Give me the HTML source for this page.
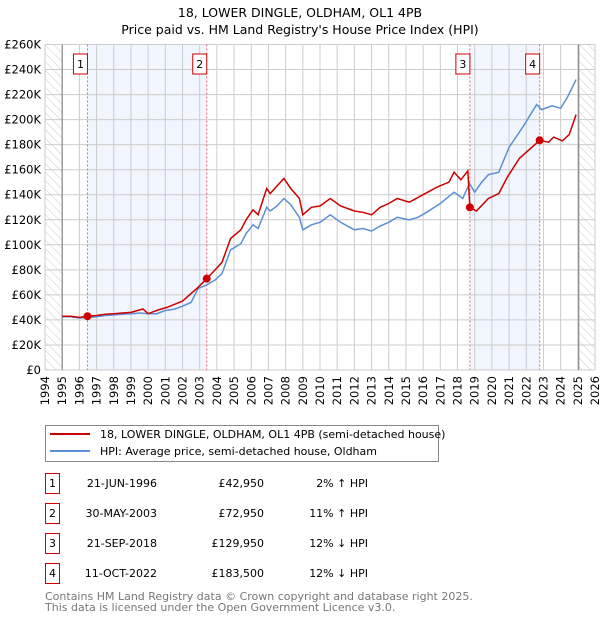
<!DOCTYPE html>
<html><head><meta charset="utf-8"><style>
body{margin:0;background:#fff;font-family:"DejaVu Sans","Liberation Sans",sans-serif;}
svg text{font-family:"DejaVu Sans","Liberation Sans",sans-serif;}
</style></head><body>
<svg id="c" width="600" height="620" viewBox="0 0 600 620" xmlns="http://www.w3.org/2000/svg">
<defs><pattern id="hatch" width="6" height="6" patternUnits="userSpaceOnUse" patternTransform="rotate(-45)"><line x1="0" y1="0" x2="0" y2="6" stroke="#ccc" stroke-width="1"/></pattern></defs>
<text x="300" y="17" text-anchor="middle" font-size="12.5">18, LOWER DINGLE, OLDHAM, OL1 4PB</text>
<text x="300" y="34" text-anchor="middle" font-size="12.5">Price paid vs. HM Land Registry's House Price Index (HPI)</text>
<g id="plot"></g>
<g>
<rect x="45.5" y="425.5" width="393" height="36" fill="#fff" stroke="#888"/>
<line x1="50" y1="434" x2="90" y2="434" stroke="#cc0000" stroke-width="2"/>
<text x="100" y="438" font-size="11">18, LOWER DINGLE, OLDHAM, OL1 4PB (semi-detached house)</text>
<line x1="50" y1="451" x2="90" y2="451" stroke="#5b8fd4" stroke-width="2"/>
<text x="100" y="455" font-size="11">HPI: Average price, semi-detached house, Oldham</text>
</g>
<g id="table" font-size="11"></g>
<text x="45" y="600" font-size="11" fill="#777">Contains HM Land Registry data © Crown copyright and database right 2025.</text>
<text x="45" y="611" font-size="11" fill="#777">This data is licensed under the Open Government Licence v3.0.</text>
</svg>
<script>
const hpiYears=[1995,1995.5,1996,1996.5,1997,1997.5,1998,1998.5,1999,1999.5,2000,2000.5,2001,2001.5,2002,2002.5,2002.9,2003.4,2003.9,2004.3,2004.8,2005.4,2005.7,2006.1,2006.4,2006.9,2007.1,2007.5,2007.9,2008.3,2008.8,2009.0,2009.5,2010,2010.6,2011.2,2012.0,2012.5,2013.0,2013.5,2014.0,2014.5,2015.2,2015.7,2016.2,2017.0,2017.8,2018.3,2018.7,2019.0,2019.4,2019.8,2020.4,2021.0,2021.8,2022.6,2022.9,2023.5,2024.0,2024.4,2024.9];
const hpiValues=[42.5,42.5,41.5,42,42.5,43.5,44,44.5,45,45.5,45,45,47.5,48.5,51,54,65,68,72,77,96,101,109,116,113,130,127,131,137,132,122,112,116,118,124,118,112,113,111,115,118,122,120,122,126,133,142,137,149,142,150,156,158,178,194,212,208,211,209,218,232];
const propYears=[1995,1995.5,1996,1996.47,1997,1997.5,1998,1998.5,1999,1999.7,2000.0,2000.6,2001.1,2002,2002.9,2003.41,2003.9,2004.3,2004.8,2005.4,2005.7,2006.1,2006.4,2006.9,2007.1,2007.5,2007.9,2008.3,2008.8,2009.0,2009.5,2010,2010.6,2011.2,2012.0,2012.5,2013.0,2013.5,2014.0,2014.5,2015.2,2016,2016.8,2017.5,2017.8,2018.2,2018.6,2018.72,2019.1,2019.8,2020.4,2020.9,2021.6,2022.78,2023.3,2023.6,2024.1,2024.5,2024.9];
const propValues=[43,43,42,42.95,43.5,44.5,45,45.5,46,48.7,45,48,50,55,66,72.95,80,86,105,112,120,128,124,145,141,147,153,145,137,124,130,131,137,131,127,126,124,130,133,137,134,140,146,150,158,152,159,129.95,127,137,141,154,169,183.5,182,186,183,188,204];
const saleLabels=["1","2","3","4"];
const saleYears=[1996.47,2003.41,2018.72,2022.78];
const saleValues=[42.95,72.95,129.95,183.5];
const saleDates=["21-JUN-1996","30-MAY-2003","21-SEP-2018","11-OCT-2022"];
const salePrices=["£42,950","£72,950","£129,950","£183,500"];
const saleHpi=["2% ↑ HPI","11% ↑ HPI","12% ↓ HPI","12% ↓ HPI"];
const yTicks=[0,20,40,60,80,100,120,140,160,180,200,220,240,260];
const xTicks=[1994,1995,1996,1997,1998,1999,2000,2001,2002,2003,2004,2005,2006,2007,2008,2009,2010,2011,2012,2013,2014,2015,2016,2017,2018,2019,2020,2021,2022,2023,2024,2025,2026];
const X0=45,X1=595,Y0=370,Y1=44.5;
const xs=v=>X0+(v-1994)/32*(X1-X0);
const ys=v=>Y0-v/260*(Y0-Y1);
const NS="http://www.w3.org/2000/svg";
const plot=document.getElementById('plot');
function mk(tag,attrs,parent){const e=document.createElementNS(NS,tag);for(const k in attrs)e.setAttribute(k,attrs[k]);(parent||plot).appendChild(e);return e;}
// shading
for(let i=0;i<4;i+=2){const r=mk('rect',{x:xs(saleYears[i]),y:Y1,width:xs(saleYears[i+1])-xs(saleYears[i]),height:Y0-Y1,fill:'#eef3fc',opacity:0.8});

}
const h1=mk('rect',{x:X0,y:Y1,width:xs(1995)-X0,height:Y0-Y1,fill:'url(#hatch)'});


const h2=mk('rect',{x:xs(2025.05),y:Y1,width:X1-xs(2025.05),height:Y0-Y1,fill:'url(#hatch)'});


// grid
yTicks.forEach(t=>{const l=mk('line',{x1:X0,x2:X1,y1:ys(t),y2:ys(t),stroke:'#ccc','stroke-width':1});


const tx=mk('text',{x:X0-4,y:ys(t)+4,'text-anchor':'end','font-size':11.5});tx.textContent=t===0?'£0':'£'+t+'K';

});
xTicks.forEach(t=>{const l=mk('line',{x1:xs(t),x2:xs(t),y1:Y1,y2:Y0,stroke:'#ccc','stroke-width':1});


const tx=mk('text',{x:0,y:0,'text-anchor':'end','font-size':11.5,transform:`translate(${xs(t)+4},${Y0+6}) rotate(-90)`});tx.textContent=t;

});
[1995,2025.05].forEach(t=>{const l=mk('line',{x1:xs(t),x2:xs(t),y1:Y1,y2:Y0,stroke:'#888','stroke-width':1.2});

});
// sale markers lines
saleYears.forEach((y,i)=>{const l=mk('line',{x1:xs(y),x2:xs(y),y1:Y1,y2:Y0,stroke:'#f06070','stroke-width':1,'stroke-dasharray':'2,2'});


const b=mk('rect',{x:xs(y)-14,y:54,width:14,height:20,fill:'#fff',stroke:'#cc0000'});


const t=mk('text',{x:xs(y)-7,y:68,'text-anchor':'middle','font-size':11});t.textContent=saleLabels[i];

});
function path(xv,yv){return xv.map((x,i)=>(i?'L':'M')+xs(x).toFixed(1)+','+ys(yv[i]).toFixed(1)).join('');}
const hp=mk('path',{d:path(hpiYears,hpiValues),fill:'none',stroke:'#5b8fd4','stroke-width':1.5});


const pp=mk('path',{d:path(propYears,propValues),fill:'none',stroke:'#cc0000','stroke-width':1.5});


saleYears.forEach((y,i)=>{const c=mk('circle',{cx:xs(y),cy:ys(saleValues[i]),r:4,fill:'#cc0000'});

});
// table
const tb=document.getElementById('table');
saleLabels.forEach((s,i)=>{const y=483+i*30;
const b=mk('rect',{x:45.5,y:y-9.5,width:14,height:20,fill:'#fff',stroke:'#cc0000'},tb);


const t0=mk('text',{x:52.5,y:y+4,'text-anchor':'middle'},tb);t0.textContent=s;


const t1=mk('text',{x:157,y:y+4,'text-anchor':'end'},tb);t1.textContent=saleDates[i];


const t2=mk('text',{x:264,y:y+4,'text-anchor':'end'},tb);t2.textContent=salePrices[i];


const t3=mk('text',{x:368,y:y+4,'text-anchor':'end'},tb);t3.textContent=saleHpi[i];

});
</script>
</body></html>
